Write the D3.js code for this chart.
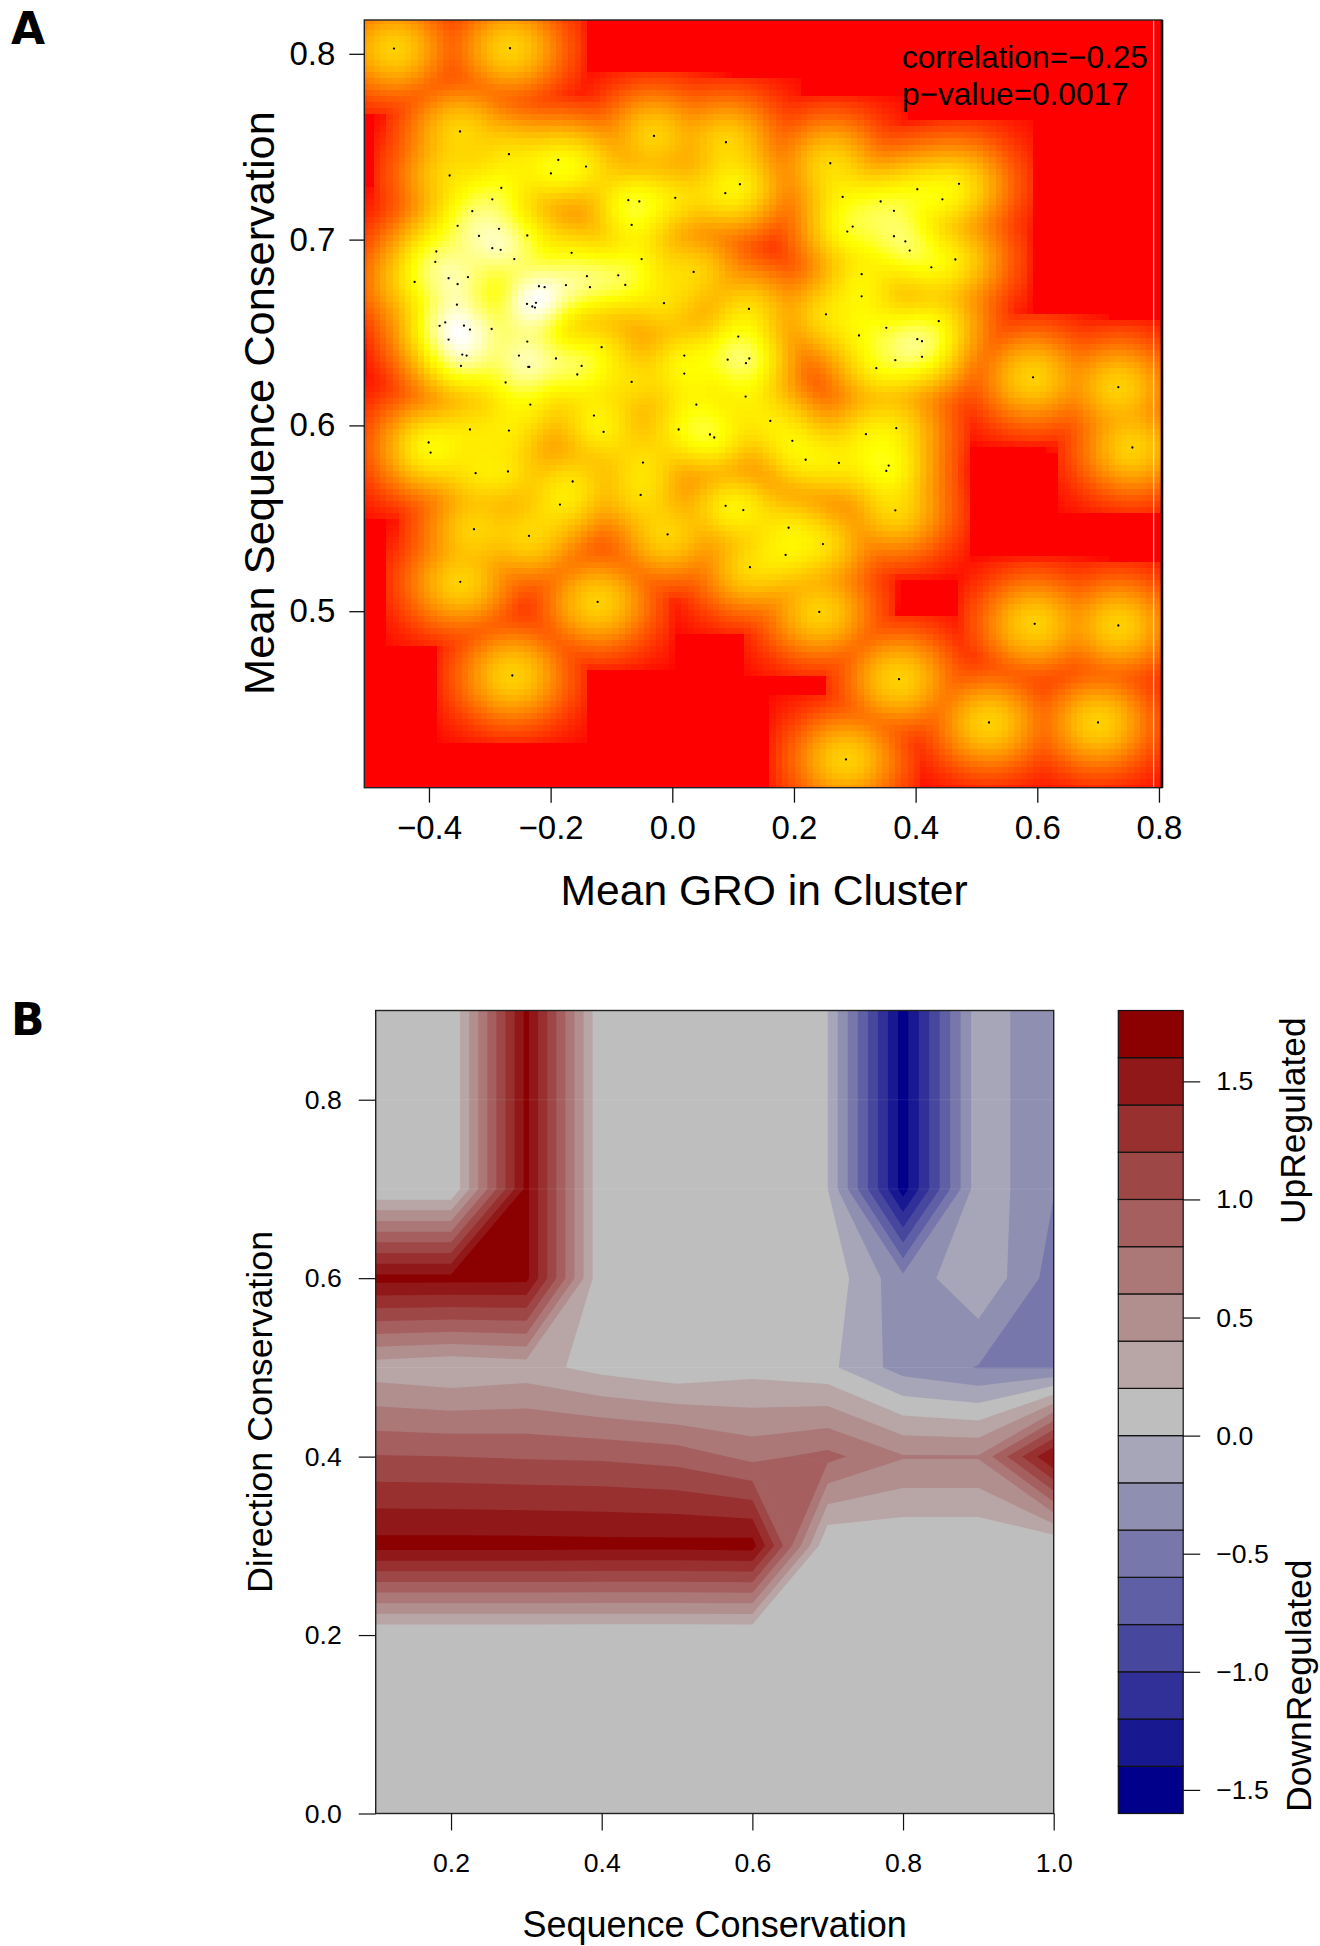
<!DOCTYPE html>
<html><head><meta charset="utf-8">
<script src="https://cdn.jsdelivr.net/npm/d3@7"></script>
<style>html,body{margin:0;padding:0;background:#fff}svg{display:block}text{font-family:"Liberation Sans",Arial,sans-serif;fill:#000}</style>
</head><body><div id="chart"></div>
<script>
// Panel A: cluster points
const groMean = [-.4575,-.2668,-.349,-.2685,-.1874,-.1419,-.1995,-.366,-.2811,-.2959,-.3288,-.3529,-.2849,-.3178,-.2384,-.2959,-.2822,-.3879,-.3896,-.2597,-.1655,-.0504,-.4236,-.3677,-.3359,-.3529,-.1403,-.0888,-.0773,-.2192,-.2099,-.1748,-.1353,.0351,-.2241,-.2389,-.2301,-.2258,-.354,-.0137,.126,.2526,-.3732,-.3825,-.3425,-.3326,-.297,-.3677,.1085,-.2384,-.1162,-.3452,-.3381,-.2521,-.1912,.0197,.091,.1266,.1211,-.3474,-.2367,-.2351,-.149,-.1562,-.0668,.0197,-.274,.1205,-.2334,.0395,-.1288,
-.0301,.0882,.2597,.1112,.0871,-.0723,-.0542,.0049,-.0668,
.1611,-.3326,-.2685,-.1129,.0104,.0619,.069,.1973,-.4005,-.3973,.2192,.274,-.0482,-.3233,-.2701,-.1638,-.052,-.1847,.0877,.1167,.1912,-.326,-.2356,-.0077,.2477,.1863,.1277,-.3485,-.1227,.2416,-.263,
.28,.3425,.4028,.444,.4713,.3644,.2965,.2877,.3644,.3831,.3902,.4653,.4258,.3113,.3113,.438,.3518,.3069,.4028,.4105,.3666,.4105,.3354,.593,.7332,
.3183,.3682,.3557,.3518,.3666,.7563,.5957,.7332,.3727,.5206,.6998,.2855];
const seqMean = [.8028,.803,.7582,.746,.7429,.7393,.7356,.7345,.7278,.7217,.7153,.7074,.7058,.702,.7022,.6954,.6945,.6936,.688,.6895,.6929,.6895,.6772,.6792,.6798,.676,.6803,.6808,.6756,.6749,.6744,.6755,.6744,.6826,.666,.6654,.664,.6634,.665,.6658,.6627,.6598,.6554,.6536,.6537,.6516,.6519,.6462,.6478,.6451,.6421,.6381,.6376,.6376,.636,.6376,.6354,.636,.6335,.632,.6315,.6315,.632,.6274,.6234,.6279,.6231,.6155,.6112,.6112,.6053,
.7558,.7524,.7411,.7298,.725,.7212,.7205,.7225,.7079,
.6024,.5978,.5972,.5965,.5978,.5951,.5935,.5917,.5908,.5854,.5815,.5798,.58,.5743,.5752,.5698,.5626,.5574,.5567,.5544,.5449,.5441,.5405,.5413,.5361,.5303,.5237,.5158,.505,.4996,.4654,
.723,.7205,.7271,.7217,.73,.7155,.707,.7043,.7018,.699,.6941,.6893,.6851,.6814,.6695,.6561,.6525,.6484,.6464,.6453,.6351,.6369,.6308,.6259,.6206,
.5953,.5985,.5784,.5755,.5543,.5881,.4932,.4923,.4634,.4401,.4401,.4202];
const xTicksA = [-.4,-.2,0,.2,.4,.6,.8];
const yTicksA = [.5,.6,.7,.8];
const statLines = ["correlation=\u22120.25","p\u2212value=0.0017"];

// Panel B: regulation surface, rows follow dirGrid, columns follow seqGrid
const seqGrid = [.1,.2,.3,.4,.5,.6,.7,.8,.9,1];
const dirGrid = [0,.1,.2,.3,.4,.5,.6,.7,.8,.9];
const row00 = [0,0,0,0,0,0,0,0,0,0];
const row01 = [0,0,0,0,0,0,0,0,0,0];
const row02 = [0,0,0,0,0,0,0,0,0,0];
const row03 = [1.68,1.68,1.68,1.67,1.67,1.687,0,0,0,0];
const row04 = [1.013,1,.98,.965,.915,.74,.86,.617,.617,1.62];
const row05 = [.28,.22,.277,.13,.04,.12,.05,-.29,-.41,-.42];
const row06 = [1.67,1.67,1.66,0,.05,.05,.135,-.34,-.023,-.49];
const row07 = [0,0,1.66,0,0,0,0,-1.5,-.06,-.39];
const row08 = [0,0,1.66,0,0,0,0,-1.5,-.06,-.39];
const row09 = [0,0,1.66,0,0,0,0,-1.5,-.06,-.39];
const levels = [-1.6,-1.4,-1.2,-1,-.8,-.6,-.4,-.2,0,.2,.4,.6,.8,1,1.2,1.4,1.6,1.8];
const xTicksB = [.2,.4,.6,.8,1];
const yTicksB = [0,.2,.4,.6,.8];
const legendTicks = [-1.5,-1,-.5,0,.5,1,1.5];

const W = 1320, H = 1946;
const svg = d3.select("#chart").append("svg").attr("width",W).attr("height",H);

function styleAxis(g, size, sw){
  g.select(".domain").remove();
  g.selectAll(".tick line").attr("stroke","#111").attr("stroke-width",sw);
  g.selectAll(".tick text").attr("font-size",size).attr("fill","#000").style("font-family",'"Liberation Sans",Arial,sans-serif');
}

/* ---------- Panel A ---------- */
const A = {l:364.3, r:1162, t:20, b:787.7};
const xA = d3.scaleLinear().domain([-.5063,.805]).range([A.l,A.r]);
const yA = d3.scaleLinear().domain([.405,.8182]).range([A.b,A.t]);

// binned kernel density (linear binning + truncated Gaussian), as in smoothScatter
const M = 128, tau = 3.4, hx = .0362, hy = .01044;
const [ax,bx] = xA.domain(), [ay,by] = yA.domain();
const dx = (bx-ax)/(M-1), dy = (by-ay)/(M-1);
const counts = new Float64Array(M*M);
groMean.forEach((g,i)=>{
  const fx=(g-ax)/dx, fy=(seqMean[i]-ay)/dy;
  const ix=Math.floor(fx), iy=Math.floor(fy), rx=fx-ix, ry=fy-iy;
  [[0,0,(1-rx)*(1-ry)],[1,0,rx*(1-ry)],[0,1,(1-rx)*ry],[1,1,rx*ry]].forEach(([a,b,w])=>{
    const px=ix+a, py=iy+b;
    if(px>=0&&px<M&&py>=0&&py<M) counts[py*M+px]+=w;
  });
});
const Lx = Math.floor(tau*hx/dx), Ly = Math.floor(tau*hy/dy);
const dens = new Float64Array(M*M);
for(let j=0;j<M;j++)for(let i=0;i<M;i++){
  const c=counts[j*M+i]; if(!c)continue;
  for(let v=-Ly;v<=Ly;v++){const jj=j+v; if(jj<0||jj>=M)continue;
    const kv=Math.exp(-.5*(v*dy/hy)**2);
    for(let u=-Lx;u<=Lx;u++){const ii=i+u; if(ii<0||ii>=M)continue;
      dens[jj*M+ii]+=c*kv*Math.exp(-.5*(u*dx/hx)**2);
    }}
}
const root = Array.from(dens,d=>Math.pow(d,.25));
const uMax = d3.max(root);
const uYellow = 255/208;
const heat = d3.scaleLinear().domain([0,uYellow,uMax]).range(["#ff0000","#ffff00","#ffffff"]).clamp(true);
const cells=[]; for(let j=0;j<M;j++)for(let i=0;i<M;i++)cells.push({i,j,u:root[j*M+i]});

svg.append("clipPath").attr("id","clipA").append("rect").attr("x",A.l).attr("y",A.t).attr("width",A.r-A.l).attr("height",A.b-A.t);
const cw=(xA(dx)-xA(0)), ch=(yA(0)-yA(dy));
svg.append("g").attr("clip-path","url(#clipA)").attr("shape-rendering","crispEdges")
  .selectAll("rect").data(cells).join("rect")
  .attr("x",d=>xA(ax+d.i*dx)-cw/2).attr("y",d=>yA(ay+d.j*dy)-ch/2)
  .attr("width",cw+.6).attr("height",ch+.6).attr("fill",d=>heat(d.u));
svg.append("g").selectAll("circle").data(groMean).join("circle")
  .attr("cx",d=>xA(d)).attr("cy",(d,i)=>yA(seqMean[i])).attr("r",1.15).attr("fill","#000");
svg.append("line").attr("x1",1153.7).attr("x2",1153.7).attr("y1",A.t).attr("y2",A.b).attr("stroke","#fff").attr("stroke-width",1).attr("stroke-opacity",.85);
svg.append("rect").attr("x",A.l).attr("y",A.t).attr("width",A.r-A.l).attr("height",A.b-A.t).attr("fill","none").attr("stroke","#222").attr("stroke-width",1.4);
svg.append("line").attr("x1",A.r).attr("x2",A.r).attr("y1",A.t).attr("y2",A.b).attr("stroke","#000").attr("stroke-width",2.6);

svg.append("g").attr("transform",`translate(0,${A.b})`)
  .call(d3.axisBottom(xA).tickValues(xTicksA).tickFormat(d3.format(".1f")).tickSize(15).tickPadding(13))
  .call(styleAxis,33,1.3);
svg.append("g").attr("transform",`translate(${A.l},0)`)
  .call(d3.axisLeft(yA).tickValues(yTicksA).tickFormat(d3.format(".1f")).tickSize(15).tickPadding(14))
  .call(styleAxis,33,1.3);
svg.append("text").attr("x",(A.l+A.r)/2+1).attr("y",905).attr("text-anchor","middle").attr("font-size",42.6).text("Mean GRO in Cluster");
svg.append("text").attr("transform","translate(273.5,403) rotate(-90)").attr("text-anchor","middle").attr("font-size",43.4).text("Mean Sequence Conservation");
svg.selectAll(".stat").data(statLines).join("text").attr("class","stat")
  .attr("x",902).attr("y",(d,i)=>68+i*36.5).attr("font-size",31.6).text(d=>d);

/* ---------- Panel B ---------- */
const B = {l:375.7, r:1053.7, t:1010.5, b:1813.5};
const xB = d3.scaleLinear().domain([.1,1]).range([B.l,B.r]);
const yB = d3.scaleLinear().domain([0,.9]).range([B.b,B.t]);
const surfaceRows = [row00,row01,row02,row03,row04,row05,row06,row07,row08,row09];
const surface = surfaceRows.flat();
const palette = d3.quantize(d3.piecewise(d3.interpolateRgb,["#00008B","#BEBEBE","#8B0000"]),levels.length-1);
const nx=seqGrid.length, ny=dirGrid.length;
const stepX=seqGrid[1]-seqGrid[0], stepY=dirGrid[1]-dirGrid[0];
const cont = d3.contours().size([nx,ny]).thresholds(levels.slice(0,-1))(surface);
const proj = d3.geoTransform({point(px,py){
  this.stream.point(xB(seqGrid[0]+(px-.5)*stepX), yB(dirGrid[0]+(py-.5)*stepY));
}});
const path = d3.geoPath(proj);

// saddle cells: where the cell mean is above the level, the two high corners join
function saddleBridges(t){
  const out=[];
  for(let j=0;j<ny-1;j++)for(let i=0;i<nx-1;i++){
    const a=surfaceRows[j][i], b=surfaceRows[j][i+1], c=surfaceRows[j+1][i+1], e=surfaceRows[j+1][i];
    const saddle=(a>=t&&c>=t&&b<t&&e<t)||(b>=t&&e>=t&&a<t&&c<t);
    if(!saddle||(a+b+c+e)/4<t)continue;
    const x0=seqGrid[i],x1=seqGrid[i+1],y0=dirGrid[j],y1=dirGrid[j+1];
    out.push([
      [x0+(t-a)/(b-a)*(x1-x0),y0],
      [x1,y0+(t-b)/(c-b)*(y1-y0)],
      [x0+(t-e)/(c-e)*(x1-x0),y1],
      [x0,y0+(t-a)/(e-a)*(y1-y0)]
    ]);
  }
  return out;
}
const bridgeLine = d3.line().x(d=>xB(d[0])).y(d=>yB(d[1])).curve(d3.curveLinearClosed);

svg.append("clipPath").attr("id","clipB").append("rect").attr("x",B.l).attr("y",B.t).attr("width",B.r-B.l).attr("height",B.b-B.t);
const gB = svg.append("g").attr("clip-path","url(#clipB)");
gB.append("rect").attr("x",B.l).attr("y",B.t).attr("width",B.r-B.l).attr("height",B.b-B.t).attr("fill",palette[8]);
cont.forEach((c,i)=>{
  gB.append("path").attr("d",path(c)).attr("fill",palette[i]);
  saddleBridges(levels[i]).forEach(q=>gB.append("path").attr("d",bridgeLine(q)).attr("fill",palette[i]));
});
gB.selectAll("line").data([.5,.7,.8]).join("line").attr("x1",B.l).attr("x2",B.r)
  .attr("y1",d=>yB(d)).attr("y2",d=>yB(d)).attr("stroke","#fff").attr("stroke-opacity",.09).attr("stroke-width",1);
svg.append("rect").attr("x",B.l).attr("y",B.t).attr("width",B.r-B.l).attr("height",B.b-B.t).attr("fill","none").attr("stroke","#222").attr("stroke-width",1.4);

svg.append("g").attr("transform",`translate(0,${B.b})`)
  .call(d3.axisBottom(xB).tickValues(xTicksB).tickFormat(d3.format(".1f")).tickSize(17).tickPadding(22.5))
  .call(styleAxis,26.6,1.2);
svg.append("g").attr("transform",`translate(${B.l},0)`)
  .call(d3.axisLeft(yB).tickValues(yTicksB).tickFormat(d3.format(".1f")).tickSize(17).tickPadding(17))
  .call(styleAxis,26.6,1.2);
svg.append("text").attr("x",714.6).attr("y",1936.5).attr("text-anchor","middle").attr("font-size",36).text("Sequence Conservation");
svg.append("text").attr("transform","translate(272,1412) rotate(-90)").attr("text-anchor","middle").attr("font-size",35.8).text("Direction Conservation");

// colour key
const C = {l:1118.3, r:1183.2};
const yC = d3.scaleLinear().domain([levels[0],levels[levels.length-1]]).range([B.b,B.t]);
svg.append("g").selectAll("rect").data(palette).join("rect")
  .attr("x",C.l).attr("width",C.r-C.l).attr("y",(d,i)=>yC(levels[i+1])).attr("height",(d,i)=>yC(levels[i])-yC(levels[i+1]))
  .attr("fill",d=>d).attr("stroke","#111").attr("stroke-width",1.2);
svg.append("g").attr("transform",`translate(${C.r},0)`)
  .call(d3.axisRight(yC).tickValues(legendTicks).tickFormat(d3.format(".1f")).tickSize(17).tickPadding(16))
  .call(styleAxis,26.6,1.2);
svg.append("text").attr("transform","translate(1305,1224) rotate(-90)").attr("font-size",35.4).text("UpRegulated");
svg.append("text").attr("transform","translate(1311,1812) rotate(-90)").attr("font-size",35.5).text("DownRegulated");

/* ---------- Panel letters ---------- */
svg.selectAll(".letter").data([["A",44],["B",1034.5]]).join("text").attr("class","letter")
  .attr("x",11).attr("y",d=>d[1]).attr("font-size",44).attr("font-weight","bold").style("font-family",'"DejaVu Sans",sans-serif').text(d=>d[0]);
</script></body></html>
